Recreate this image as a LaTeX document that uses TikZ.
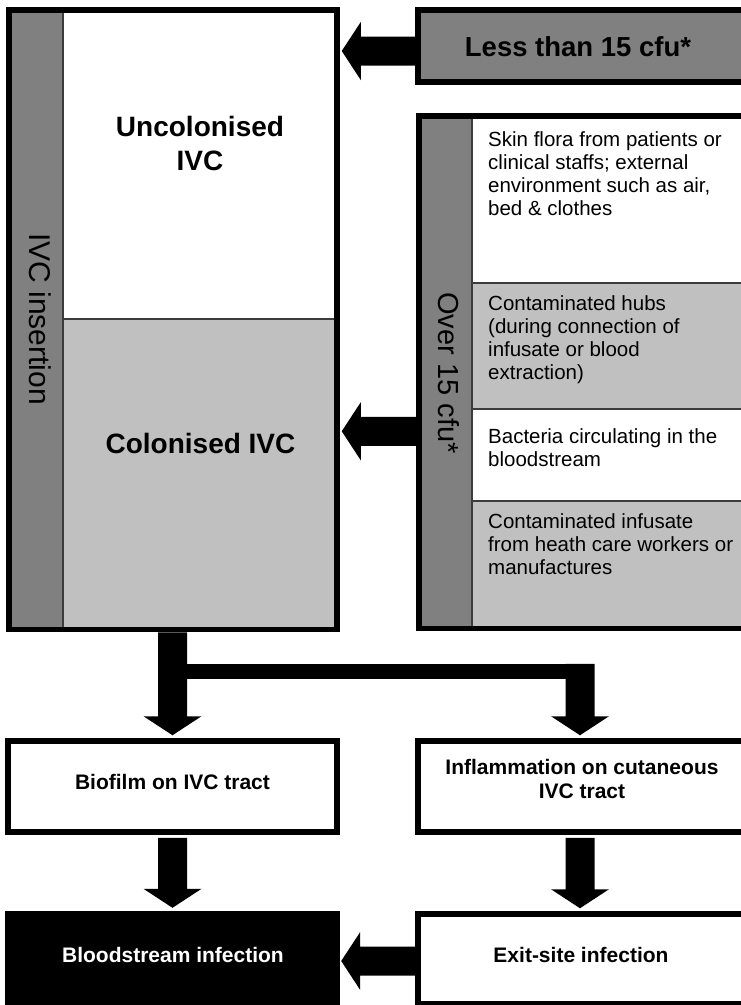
\documentclass[tikz,border=0pt]{standalone}
\usepackage{fontspec}
\setmainfont{Liberation Sans}
\usetikzlibrary{calc}
\definecolor{midgray}{RGB}{128,128,128}
\definecolor{ltgray}{RGB}{192,192,192}
\definecolor{lineg}{RGB}{60,60,60}
\newcommand{\fatarrow}[2]{%
  \fill[black] let \p1=#1, \p2=#2,
    \n1={atan2(\y2-\y1,\x2-\x1)}, \n2={veclen(\x2-\x1,\y2-\y1)} in
    [shift={(\p1)}, rotate=\n1]
    (0pt,-14.5pt) -- (\n2-19pt,-14.5pt) -- (\n2-19pt,-29pt) -- ({\n2+0pt},0pt)
    -- (\n2-19pt,29pt) -- (\n2-19pt,14.5pt) -- (0pt,14.5pt) -- cycle;}
\begin{document}
\begin{tikzpicture}[x=1pt,y=-1pt,
  thinln/.style={draw=lineg, line width=1.5pt},
  boxframe/.style={draw=black, line width=5.5pt, rectangle, inner sep=0pt},
  rowtxt/.style={inner sep=0pt, align=left, anchor=north west,
    font=\fontsize{20.5pt}{23pt}\selectfont},
  bigbold/.style={inner sep=0pt, align=center, font=\bfseries\fontsize{28pt}{34pt}\selectfont},
  smallbold/.style={inner sep=0pt, align=center, font=\bfseries\fontsize{21pt}{23.5pt}\selectfont},
  sidetxt/.style={inner sep=0pt, rotate=-90}]
\clip (0,0) rectangle (741,1005);
\fill[white] (0,0) rectangle (741,1005);

% ---- left big box fills
\fill[midgray] (9,10) rectangle (63,629.5);
\fill[white] (63,10) rectangle (337,319);
\fill[ltgray] (63,319) rectangle (337,629.5);
\draw[thinln] (63,10) -- (63,629.5);
\draw[thinln] (63,319) -- (337,319);
\node[boxframe, minimum width=328pt, minimum height=619.5pt] (ivc) at (173,319.75) {};

% ---- less than box
\node[boxframe, fill=midgray, minimum width=327pt, minimum height=72pt] (less) at (581.5,46) {};

% ---- over box fills
\fill[midgray] (419,116) rectangle (472,628.5);
\fill[white] (472,116) rectangle (745,283);
\fill[ltgray] (472,283) rectangle (745,409);
\fill[white] (472,409) rectangle (745,501);
\fill[ltgray] (472,501) rectangle (745,628.5);
\draw[thinln] (472,116) -- (472,628.5);
\draw[thinln] (472,283) -- (745,283);
\draw[thinln] (472,409) -- (745,409);
\draw[thinln] (472,501) -- (745,501);
\node[boxframe, minimum width=326pt, minimum height=512.5pt] (over) at (582,372.25) {};

% ---- lower boxes
\node[boxframe, minimum width=329pt, minimum height=91pt] (biofilm) at (172.5,786.5) {};
\node[boxframe, minimum width=327pt, minimum height=91pt] (infl) at (581.5,786.5) {};
\node[rectangle, fill=black, inner sep=0pt, minimum width=335pt, minimum height=104pt] (blood) at (172.5,963) {};
\node[boxframe, minimum width=327pt, minimum height=90pt] (exit) at (581.5,959) {};

% ---- texts
\node[bigbold] (tuncol) at (200,143) {Uncolonised\\IVC};
\node[bigbold] (tcol) at (200.5,443.5) {Colonised IVC};
\node[sidetxt, font=\fontsize{30pt}{30pt}\selectfont] (tins) at (40.5,319) {IVC insertion};
\node[sidetxt, font=\fontsize{29pt}{29pt}\selectfont] (tover) at (449,373) {Over 15 cfu*};
\node[inner sep=0pt, font=\bfseries\fontsize{27.5pt}{27.5pt}\selectfont] (tless) at (578,46.5) {Less than 15 cfu*};

\node[rowtxt] (r1) at (488,131) {Skin flora from patients or\\clinical staffs; external\\environment such as air,\\bed \& clothes};
\node[rowtxt] (r2) at (488,295) {Contaminated hubs\\(during connection of\\infusate or blood\\extraction)};
\node[rowtxt] (r3) at (488,428) {Bacteria circulating in the\\bloodstream};
\node[rowtxt] (r4) at (488,513) {Contaminated infusate\\from heath care workers or\\manufactures};

\node[smallbold] (tbio) at (172.5,781.5) {Biofilm on IVC tract};
\node[smallbold] (tinfl) at (582,779) {Inflammation on cutaneous\\IVC tract};
\node[smallbold, text=white] (tblood) at (173,954.5) {Bloodstream infection};
\node[smallbold] (texit) at (581,955) {Exit-site infection};

% ---- arrows
\fatarrow{($(less.west)+(0,5)$)}{($(ivc.east|-less.west)+(2,5)$)}
\fatarrow{($(over.west)+(0,59)$)}{($(ivc.east|-over.west)+(2,59)$)}
\coordinate (tj) at ($(biofilm.north|-ivc.south)+(0,39)$);
\fatarrow{($(biofilm.north|-ivc.south)+(0,0)$)}{($(biofilm.north)+(0,-3)$)}
\fill[black] ($(tj)+(0,-7.5)$) rectangle ($(tj -| infl.north)+(0,7.5)$);
\fatarrow{($(tj -| infl.north)+(-1.5,-7.5)$)}{($(infl.north)+(-1.5,-3)$)}
\fatarrow{($(biofilm.south)+(0,3)$)}{($(blood.north)+(0,-3)$)}
\fatarrow{($(infl.south)+(-1.5,3)$)}{($(exit.north)+(-1.5,-3)$)}
\fatarrow{($(exit.west)+(0,2)$)}{($(blood.east|-exit.west)+(1,2)$)}
\end{tikzpicture}
\end{document}
